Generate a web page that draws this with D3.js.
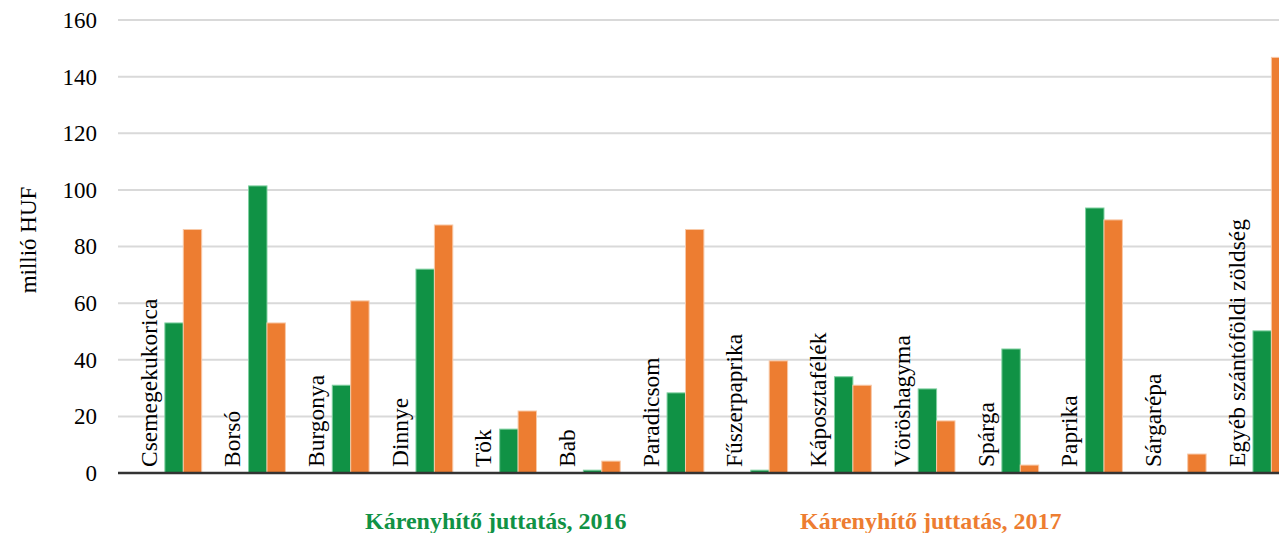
<!DOCTYPE html>
<html>
<head>
<meta charset="utf-8">
<script src="https://cdn.jsdelivr.net/npm/d3@7"></script>
<style>
  body { margin: 0; background: #fff; }
  svg text { font-family: 'Liberation Serif', 'Times New Roman', Tinos, 'DejaVu Serif', serif; }
</style>
</head>
<body>
<script>
const categories = ['Csemegekukorica', 'Borsó', 'Burgonya', 'Dinnye', 'Tök', 'Bab', 'Paradicsom',
  'Fűszerpaprika', 'Káposztafélék', 'Vöröshagyma', 'Spárga', 'Paprika', 'Sárgarépa', 'Egyéb szántóföldi zöldség']
const values2016 = [53, 101.4, 31, 72, 15.5, 1, 28.3, 1, 34, 29.7, 43.8, 93.6, 0, 50.2]
const values2017 = [86, 53, 60.8, 87.6, 21.9, 4.2, 86, 39.6, 31, 18.4, 2.8, 89.4, 6.7, 146.8]
const seriesNames = ['Kárenyhítő juttatás, 2016', 'Kárenyhítő juttatás, 2017']
const yTicks = [0, 20, 40, 60, 80, 100, 120, 140, 160]

const w = 1279
const h = 533
const padLeft = 118
const padTop = 20
const baseY = 473
const colors = ['#109245', '#ED7D31']

const svg = d3.select('body').append('svg')
  .attr('width', w)
  .attr('height', h)
  .style('display', 'block')

const x = d3.scaleBand()
  .domain(categories)
  .range([padLeft, padLeft + 14 * 83.7])

const bw = x.bandwidth()
const xInner = d3.scaleBand()
  .domain(seriesNames)
  .range([bw * 0.56, bw])

const y = d3.scaleLinear()
  .domain([0, 160])
  .range([baseY, padTop])

// gridlines
svg.append('g')
  .selectAll('line')
  .data(yTicks.filter(d => d > 0))
  .enter()
  .append('line')
  .attr('x1', padLeft)
  .attr('x2', w)
  .attr('y1', d => y(d))
  .attr('y2', d => y(d))
  .attr('stroke', '#d9d9d9')
  .attr('stroke-width', 2)

const yAxis = svg.append('g')
  .attr('transform', `translate(${padLeft},0)`)
  .call(d3.axisLeft(y).tickValues(yTicks).tickSize(0).tickPadding(21))
yAxis.select('.domain').remove()
yAxis.selectAll('text')
  .attr('font-size', 23)
  .attr('fill', '#000')

const rows = categories.map((c, i) => ({ c, v: [values2016[i], values2017[i]] }))

const groups = svg.append('g')
  .selectAll('g')
  .data(rows)
  .enter()
  .append('g')
  .attr('transform', d => `translate(${x(d.c)},0)`)

groups.selectAll('rect')
  .data(d => d.v.map((v, k) => ({ v, k })))
  .enter()
  .append('rect')
  .attr('x', d => xInner(seriesNames[d.k]))
  .attr('width', xInner.bandwidth())
  .attr('y', d => y(d.v))
  .attr('height', d => y(0) - y(d.v))
  .attr('fill', d => colors[d.k])
  .attr('stroke', d => d.k === 0 ? '#7fd0a0' : '#f8c9a8')
  .attr('stroke-width', d => d.v > 0 ? 1 : 0)

groups.append('text')
  .attr('transform', `translate(${bw * 0.46},467) rotate(-90)`)
  .attr('font-size', 23.5)
  .attr('fill', '#000')
  .text(d => d.c)

// baseline
svg.append('line')
  .attr('x1', padLeft)
  .attr('x2', w)
  .attr('y1', y(0))
  .attr('y2', y(0))
  .attr('stroke', '#333')
  .attr('stroke-width', 2.5)

svg.append('text')
  .attr('transform', 'translate(36,240) rotate(-90)')
  .attr('text-anchor', 'middle')
  .attr('font-size', 23)
  .text('millió HUF')

const legendX = [365, 800]
svg.append('g')
  .selectAll('text')
  .data(seriesNames)
  .enter()
  .append('text')
  .attr('x', (d, i) => legendX[i])
  .attr('y', 529)
  .attr('font-size', 24)
  .attr('font-weight', 'bold')
  .attr('fill', (d, i) => colors[i])
  .text(d => d)
</script>
</body>
</html>
